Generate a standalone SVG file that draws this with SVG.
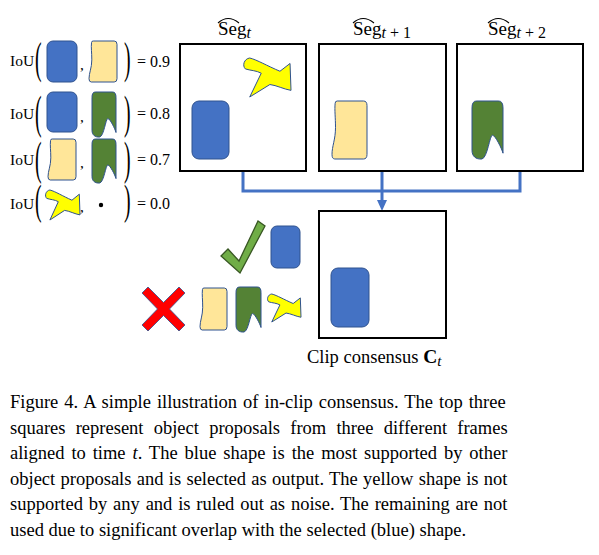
<svg xmlns="http://www.w3.org/2000/svg" xmlns:xlink="http://www.w3.org/1999/xlink" width="599" height="555" viewBox="0 0 599 555">
<style>
.frame{fill:#fff;stroke:#000;stroke-width:2}
.blue{fill:#4472C4;stroke:#2F528F;stroke-width:1}
.tan{fill:#FFE699;stroke:#2F528F;stroke-width:1}
.green{fill:#548235;stroke:#2F528F;stroke-width:1}
.yellow{fill:#FFFF00;stroke:#2F528F;stroke-width:1}
.serif{font-family:"Liberation Serif","Times New Roman",serif;fill:#000}
.lbl{font-size:15.5px}
.val{font-size:16px}
.par{font-size:18px}
.title{font-size:19px}
.sub{font-size:16px}
.cap{font-size:18.5px}
.conn{fill:none;stroke:#4472C4;stroke-width:3}
.hat{fill:none;stroke:#000;stroke-width:1.1}
</style>
<defs>
<path id="tanShape" vector-effect="non-scaling-stroke" d="M9,4 Q9,0 15,0 L90,0 Q100,0 100,8 L100,92 Q100,100 90,100 L8,100 Q0,100 0,92 C0,78 10,66 10,46 C10,28 7,16 9,4 Z"/>
<path id="greenShape" vector-effect="non-scaling-stroke" d="M14,0 L86,0 Q100,0 100,12 L100,90 C96,82 75,59 66,59 C57,59 50,98 32,100 C12,101 0,95 0,85 L0,12 Q0,0 14,0 Z"/>
<path id="yellowShape" vector-effect="non-scaling-stroke" d="M14,0 C30,5 50,20 77,34 L98,14 L100,83 C85,80 70,70 56,68 L14,100 L38,39 C28,32 15,32 5,28 C-2,20 2,2 14,0 Z"/>
</defs>
<rect width="599" height="555" fill="#fff"/>

<g id="connectors">
<path class="conn" d="M243,171 V191 H520 V171"/>
<line class="conn" x1="382" y1="171" x2="382" y2="200"/>
<path d="M377,200 L387,200 L382,211 Z" fill="#4472C4"/>
</g>

<g id="seg-t">
<rect class="frame" x="180" y="44" width="126" height="127"/>
<path class="hat" d="M218,23 Q228,14 239,23"/>
<text class="serif title" x="218" y="35">Seg<tspan class="sub" font-style="italic" dy="3">t</tspan></text>
<rect class="blue" x="192" y="101" width="37" height="58" rx="7"/>
<use xlink:href="#yellowShape" class="yellow" transform="translate(243,58) scale(0.48,0.39)"/>
</g>

<g id="seg-t1">
<rect class="frame" x="319" y="44" width="127" height="127"/>
<path class="hat" d="M353,23 Q363,14 374,23"/>
<text class="serif title" x="353" y="35">Seg<tspan class="sub" dy="3"><tspan font-style="italic">t</tspan> + 1</tspan></text>
<use xlink:href="#tanShape" class="tan" transform="translate(332,101) scale(0.35,0.58)"/>
</g>

<g id="seg-t2">
<rect class="frame" x="457" y="44" width="126" height="127"/>
<path class="hat" d="M488,23 Q498,14 509,23"/>
<text class="serif title" x="488" y="35">Seg<tspan class="sub" dy="3"><tspan font-style="italic">t</tspan> + 2</tspan></text>
<use xlink:href="#greenShape" class="green" transform="translate(472,101) scale(0.31,0.58)"/>
</g>

<g id="clip-consensus">
<rect class="frame" x="319" y="211" width="127" height="127"/>
<rect class="blue" x="331" y="268" width="38" height="59" rx="7"/>
<text class="serif" font-size="18.5" x="307" y="363">Clip consensus <tspan font-weight="bold" font-size="19.5">C</tspan><tspan font-style="italic" font-size="15" dy="3">t</tspan></text>
</g>

<g id="iou-row1">
<text class="serif lbl" x="10" y="66">IoU</text>
<text class="serif par" transform="translate(35,72.5) scale(1.1,2.45)">(</text>
<rect class="blue" x="47" y="41" width="30" height="41" rx="6"/>
<text class="serif lbl" x="80" y="70">,</text>
<use xlink:href="#tanShape" class="tan" transform="translate(89,41) scale(0.28,0.41)"/>
<text class="serif par" transform="translate(124,72.5) scale(1.1,2.45)">)</text>
<text class="serif val" x="137" y="67">= 0.9</text>
</g>

<g id="iou-row2">
<text class="serif lbl" x="10" y="119">IoU</text>
<text class="serif par" transform="translate(35,128) scale(1.1,2.6)">(</text>
<rect class="blue" x="47" y="92" width="30" height="40" rx="6"/>
<text class="serif lbl" x="80" y="122">,</text>
<use xlink:href="#greenShape" class="green" transform="translate(92,92) scale(0.24,0.45)"/>
<text class="serif par" transform="translate(124,128) scale(1.1,2.6)">)</text>
<text class="serif val" x="137" y="119">= 0.8</text>
</g>

<g id="iou-row3">
<text class="serif lbl" x="10" y="165">IoU</text>
<text class="serif par" transform="translate(35,173.5) scale(1.1,2.6)">(</text>
<use xlink:href="#tanShape" class="tan" transform="translate(48,139) scale(0.28,0.41)"/>
<text class="serif lbl" x="80" y="168">,</text>
<use xlink:href="#greenShape" class="green" transform="translate(92,139) scale(0.24,0.44)"/>
<text class="serif par" transform="translate(124,173.5) scale(1.1,2.6)">)</text>
<text class="serif val" x="137" y="165">= 0.7</text>
</g>

<g id="iou-row4">
<text class="serif lbl" x="10" y="209">IoU</text>
<text class="serif par" transform="translate(35,214) scale(1.1,2.3)">(</text>
<use xlink:href="#yellowShape" class="yellow" transform="translate(45,190) scale(0.35,0.30)"/>
<text class="serif lbl" x="80" y="212">,</text>
<circle cx="101" cy="205" r="2.2" fill="#000"/>
<text class="serif par" transform="translate(124,214) scale(1.1,2.3)">)</text>
<text class="serif val" x="137" y="209">= 0.0</text>
</g>

<g id="selected">
<polygon points="221,256 228,249 239,261 258,221 265,226 240,273" fill="#70AD47" stroke="#385723" stroke-width="1.3"/>
<rect class="blue" x="271" y="226" width="29" height="42" rx="6"/>
</g>

<g id="rejected">
<polygon points="142,293 148,287 163.5,302.5 179,287 185,293 169.5,309 185,325 179,331 163.5,315.5 148,331 142,325 157.5,309" fill="#FF0000" stroke="#2F528F" stroke-width="0.8"/>
<use xlink:href="#tanShape" class="tan" transform="translate(200,288) scale(0.27,0.42)"/>
<use xlink:href="#greenShape" class="green" transform="translate(236,287) scale(0.25,0.45)"/>
<use xlink:href="#yellowShape" class="yellow" transform="translate(267,294) scale(0.34,0.28)"/>
</g>

<g id="caption" class="serif cap">
<text x="10" y="408" word-spacing="1.4">Figure 4. A simple illustration of in-clip consensus. The top three</text>
<text x="10" y="433.5" word-spacing="5.6">squares represent object proposals from three different frames</text>
<text x="10" y="459" word-spacing="2.3">aligned to time <tspan font-style="italic">t</tspan>. The blue shape is the most supported by other</text>
<text x="10" y="484.5" word-spacing="0.7">object proposals and is selected as output. The yellow shape is not</text>
<text x="10" y="510" word-spacing="1.2">supported by any and is ruled out as noise. The remaining are not</text>
<text x="10" y="535.5">used due to significant overlap with the selected (blue) shape.</text>
</g>
</svg>
